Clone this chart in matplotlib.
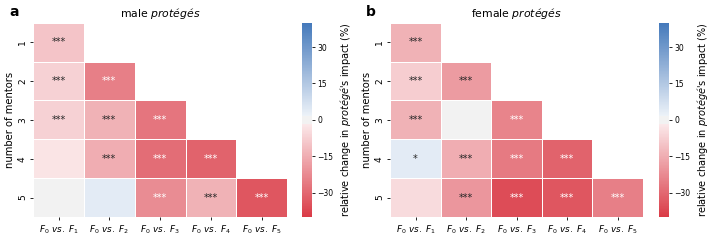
import colorsys
import matplotlib
matplotlib.use("Agg")
import matplotlib.pyplot as plt
from matplotlib.colors import LinearSegmentedColormap
import numpy as np
import seaborn as sns
from seaborn.external import husl

mentors = ["1", "2", "3", "4", "5"]
comparisons = [r"$F_0\ vs.\ F_1$", r"$F_0\ vs.\ F_2$", r"$F_0\ vs.\ F_3$",
               r"$F_0\ vs.\ F_4$", r"$F_0\ vs.\ F_5$"]

nan = np.nan
male_vals = [
    [-10, nan, nan, nan, nan],
    [-7, -25, nan, nan, nan],
    [-7, -14, -27, nan, nan],
    [-3, -15, -29, -31, nan],
    [0, 4, -22, -14, -34],
]
male_sig = [
    ["***", "", "", "", ""],
    ["***", "***", "", "", ""],
    ["***", "***", "***", "", ""],
    ["", "***", "***", "***", ""],
    ["", "", "***", "***", "***"],
]
female_vals = [
    [-14, nan, nan, nan, nan],
    [-8, -19, nan, nan, nan],
    [-14, 0, -24, nan, nan],
    [4, -15, -26, -31, nan],
    [-5, -20, -36, -34, -25],
]
female_sig = [
    ["***", "", "", "", ""],
    ["***", "***", "", "", ""],
    ["***", "", "***", "", ""],
    ["*", "***", "***", "***", ""],
    ["", "***", "***", "***", "***"],
]


# old-style seaborn diverging palette (light end = HLS lightness .95, sep=10)
def end_colors(h, s=75, l=50):
    rgb = np.clip(husl.husl_to_rgb(h, s, l), 0, 1)
    hh, _, ss = colorsys.rgb_to_hls(*rgb)
    light = colorsys.hls_to_rgb(hh, .95, ss)
    return rgb, np.array(light)


red, red_l = end_colors(10)
blue, blue_l = end_colors(250)
neg = [red + (red_l - red) * t for t in np.linspace(0, 1, 123)]
mid = [np.array([.95, .95, .95])] * 10
pos = [blue_l + (blue - blue_l) * t for t in np.linspace(0, 1, 123)]
cmap = LinearSegmentedColormap.from_list("rb", neg + mid + pos)

fig = plt.figure(figsize=(7.2, 2.4), dpi=100)

panels = [
    ("a", "male", male_vals, male_sig, [0.046, 0.096, 0.353, 0.809], [0.419, 0.096, 0.014, 0.809]),
    ("b", "female", female_vals, female_sig, [0.542, 0.096, 0.351, 0.809], [0.915, 0.096, 0.014, 0.809]),
]

for letter, who, vals, sig, pos_ax, cpos in panels:
    ax = fig.add_axes(pos_ax)
    cax = fig.add_axes(cpos)
    data = np.array(vals, dtype=float)
    mask = np.isnan(data)
    sns.heatmap(data, mask=mask, cmap=cmap, vmin=-40, vmax=40, center=0,
                annot=np.array(sig), fmt="", annot_kws={"fontsize": 7},
                linewidths=0.5, linecolor="white", ax=ax, cbar_ax=cax,
                cbar_kws={"ticks": [-30, -15, 0, 15, 30]})
    # text colour by value
    for t in ax.texts:
        x, y = t.get_position()
        v = data[int(y)][int(x)]
        t.set_color("white" if v < -20.5 else ".15")
    ax.set_xticklabels(comparisons, fontsize=6.4, rotation=0)
    ax.set_yticklabels(mentors, fontsize=6.5, rotation=90, va="center")
    ax.tick_params(length=2.5, width=0.6, pad=2)
    ax.set_ylabel("number of mentors", fontsize=7.2, labelpad=2)
    ax.set_title(who + r" $\it{protégés}$", fontsize=7.8, pad=4)
    ax.text(-0.095, 1.02, letter, transform=ax.transAxes, fontsize=10,
            fontweight="bold", va="bottom")
    cax.tick_params(labelsize=5.5, length=2, width=0.6, pad=2)
    cax.set_ylabel(r"relative change in $\it{protégé}$'s impact (%)", fontsize=7, labelpad=3)

fig.savefig("out.png", dpi=100)
